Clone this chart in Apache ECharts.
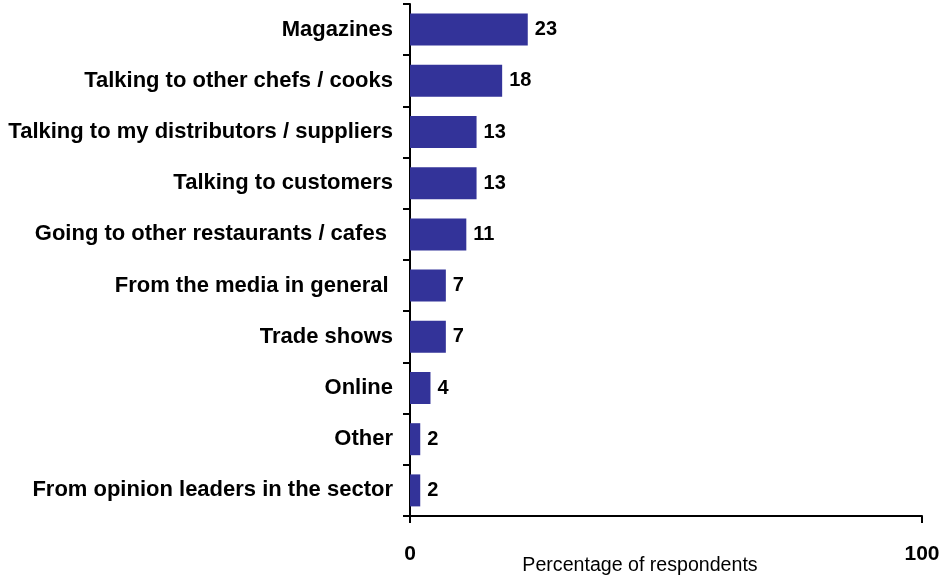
<!DOCTYPE html>
<html>
<head>
<meta charset="utf-8">
<script src="https://cdn.jsdelivr.net/npm/echarts@6/dist/echarts.min.js"></script>
<style>
  html, body { margin: 0; padding: 0; background: #ffffff; }
  #chart { width: 946px; height: 578px; }
</style>
</head>
<body>
<div id="chart"></div>
<script>
// Sources of inspiration, listed top to bottom
const categories = [
  'Magazines',
  'Talking to other chefs / cooks',
  'Talking to my distributors / suppliers',
  'Talking to customers',
  'Going to other restaurants / cafes ',
  'From the media in general\u2009',
  'Trade shows',
  'Online',
  'Other',
  'From opinion leaders in the sector'
];
// Share of respondents (%)
const values = [23, 18, 13, 13, 11, 7, 7, 4, 2, 2];
const axisMin = 0;
const axisMax = 100;
const axisStep = 100;
const axisTitle = 'Percentage of respondents';

const FONT = '"Liberation Sans", Arial, Helvetica, sans-serif';
const chart = echarts.init(document.getElementById('chart'), null, { renderer: 'canvas' });

chart.setOption({
  animation: false,
  backgroundColor: '#ffffff',
  grid: {
    left: 410, right: 24, top: 4, bottom: 62,
    containLabel: false,
    outerBoundsMode: 'none'
  },
  xAxis: {
    type: 'value',
    min: axisMin,
    max: axisMax,
    interval: axisStep,
    name: axisTitle,
    nameLocation: 'middle',
    nameGap: 40,
    nameMoveOverlap: false,
    nameTextStyle: {
      fontFamily: FONT, fontSize: 19.6, color: '#000000',
      padding: [0, 52, 0, 0]
    },
    axisLine: { show: true, lineStyle: { color: '#000000', width: 2 } },
    axisTick: { show: true, length: 7, lineStyle: { color: '#000000', width: 2 } },
    axisLabel: { fontFamily: FONT, fontSize: 21, fontWeight: 'bold', color: '#000000', margin: 28 },
    splitLine: { show: false }
  },
  yAxis: {
    type: 'category',
    data: categories,
    inverse: true,
    axisLine: { show: true, lineStyle: { color: '#000000', width: 2 } },
    axisTick: { show: true, length: 7, lineStyle: { color: '#000000', width: 2 } },
    axisLabel: { fontFamily: FONT, fontSize: 22, fontWeight: 'bold', color: '#000000', margin: 17 },
    splitLine: { show: false }
  },
  series: [{
    type: 'bar',
    data: values,
    barWidth: 32,
    itemStyle: { color: '#333399' },
    label: {
      show: true,
      position: 'right',
      distance: 7,
      fontFamily: FONT,
      fontSize: 20,
      fontWeight: 'bold',
      color: '#000000'
    }
  }]
});
</script>
</body>
</html>
